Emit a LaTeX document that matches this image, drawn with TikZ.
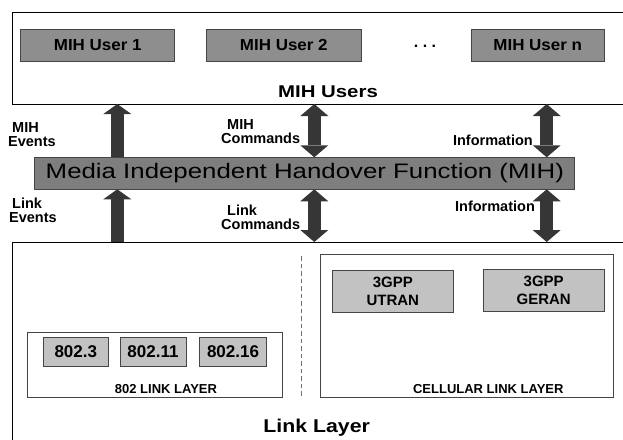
\documentclass[tikz,border=0pt]{standalone}
\usepackage{fontspec}
\setmainfont{Liberation Sans}
\usetikzlibrary{arrows.meta}
\definecolor{userfill}{HTML}{8E8E8E}
\definecolor{mihfill}{HTML}{7E7E7E}
\definecolor{techfill}{HTML}{C2C2C2}
\definecolor{edgegray}{HTML}{454545}
\definecolor{arrowgray}{HTML}{363636}
\definecolor{dashgray}{HTML}{6E6E6E}

\newcommand{\fsz}[2]{\fontsize{#1}{#2}\selectfont}

\begin{document}
\begin{tikzpicture}[x=1pt,y=-1pt,
  frame/.style={draw=black, line width=0.9pt, fill=white, inner sep=0pt, outer sep=0pt, anchor=north west},
  subframe/.style={draw=edgegray, line width=0.9pt, fill=white, inner sep=0pt, outer sep=0pt},
  userbox/.style={draw=edgegray, line width=0.9pt, fill=userfill, inner sep=0pt, outer sep=0pt,
    minimum height=32.5pt, font=\fsz{16}{16}\bfseries},
  mihbox/.style={draw=edgegray, line width=0.9pt, fill=mihfill, inner sep=0pt, outer sep=0pt,
    minimum width=540pt, minimum height=32pt, font=\fsz{21}{21}},
  techbox/.style={draw=edgegray, line width=0.9pt, fill=techfill, inner sep=0pt, outer sep=0pt,
    font=\fsz{15}{18}\bfseries, align=center},
  biglabel/.style={font=\fsz{17}{17}\bfseries, inner sep=0pt},
  sidelabel/.style={font=\fsz{14.5}{14}\bfseries, inner sep=0pt, align=left},
  layerlabel/.style={font=\fsz{13}{13}\bfseries, inner sep=0pt},
  fat/.style={draw=arrowgray, line width=13.5pt, line cap=butt},
  upfat/.style={fat, -{Triangle[width=28pt,length=10pt,line width=0pt]}},
  bothfat/.style={fat, {Triangle[width=28pt,length=12pt,line width=0pt]}-{Triangle[width=28pt,length=12pt,line width=0pt]}},
  divider/.style={draw=dashgray, line width=1pt, dash pattern=on 4.5pt off 3pt}
]
\useasboundingbox (0,0) rectangle (623,439);
\clip (0,0) rectangle (623,439);

% ---- MIH users layer ----
\node[frame, minimum width=630pt, minimum height=92pt] (users) at (12,12) {};
\node[userbox, minimum width=154pt] (u1) at (97.7,45.3) {\scalebox{1.06}[1]{MIH User 1}};
\node[userbox, minimum width=155pt] (u2) at (283.8,45.3) {\scalebox{1.06}[1]{MIH User 2}};
\node[font=\fsz{16}{16}\bfseries, inner sep=0pt] (dots) at (425,46) {.\hspace{4.5pt}.\hspace{4.5pt}.};
\node[userbox, minimum width=133pt] (un) at (537.7,45.3) {\scalebox{1.06}[1]{MIH User n}};
\node[biglabel] (userslbl) at (328,92) {\scalebox{1.2}[1]{MIH Users}};

% ---- link layer ----
\node[frame, minimum width=630pt, minimum height=222pt] (link) at (12,242) {};
\coordinate (divtop) at (301,256);
\coordinate (divbot) at (301,398);
\draw[divider] (divtop) -- (divbot);

\node[subframe, minimum width=255pt, minimum height=65.4pt] (l802) at (154.8,365) {};
\node[techbox, font=\fsz{17}{17}\bfseries, minimum width=65pt, minimum height=28.3pt] (e3) at (75.8,351.9) {802.3};
\node[techbox, font=\fsz{17}{17}\bfseries, minimum width=66pt, minimum height=28.3pt] (e11) at (153,351.9) {802.11};
\node[techbox, font=\fsz{17}{17}\bfseries, minimum width=67.4pt, minimum height=28.3pt] (e16) at (233,351.9) {802.16};
\node[layerlabel] (l802lbl) at (166,388.7) {802 LINK LAYER};

\node[subframe, minimum width=293.3pt, minimum height=143.3pt] (cell) at (466.7,325.7) {};
\node[techbox, minimum width=121pt, minimum height=42.3pt] (utran) at (392.8,291.2) {3GPP\\UTRAN};
\node[techbox, minimum width=120.7pt, minimum height=42.3pt] (geran) at (543.7,290.2) {3GPP\\GERAN};
\node[layerlabel] (celllbl) at (488.3,389.3) {CELLULAR LINK LAYER};

\node[font=\fsz{18.5}{18.5}\bfseries, inner sep=0pt] (linklbl) at (316.7,428) {\scalebox{1.15}[1]{Link Layer}};

% ---- MIH function ----
\node[mihbox] (mih) at (304.9,173.3) {\scalebox{1.23}[1]{Media Independent Handover Function (MIH)}};

% ---- arrows between the layers ----
\coordinate (xa) at (117.3,0);
\coordinate (xb) at (314.3,0);
\coordinate (xc) at (546.7,0);
\draw[upfat] (mih.north -| xa) -- (users.south -| xa);
\draw[bothfat] (mih.north -| xb) -- (users.south -| xb);
\draw[bothfat] (mih.north -| xc) -- (users.south -| xc);
\draw[upfat] (link.north -| xa) -- (mih.south -| xa);
\draw[bothfat] (link.north -| xb) -- (mih.south -| xb);
\draw[bothfat] (link.north -| xc) -- (mih.south -| xc);

% ---- arrow labels ----
\node[sidelabel, anchor=west] (mihev) at (8,135) {\hspace*{4pt}MIH\\Events};
\node[sidelabel, anchor=west] (linkev) at (9,210) {\hspace*{3pt}Link\\Events};
\node[sidelabel, anchor=west] (mihcmd) at (221,132) {\hspace*{6pt}MIH\\Commands};
\node[sidelabel, anchor=west] (linkcmd) at (221,217) {\hspace*{6pt}Link\\Commands};
\node[sidelabel] (info1) at (492.9,140.7) {Information};
\node[sidelabel] (info2) at (495,206.7) {Information};
\end{tikzpicture}
\end{document}
